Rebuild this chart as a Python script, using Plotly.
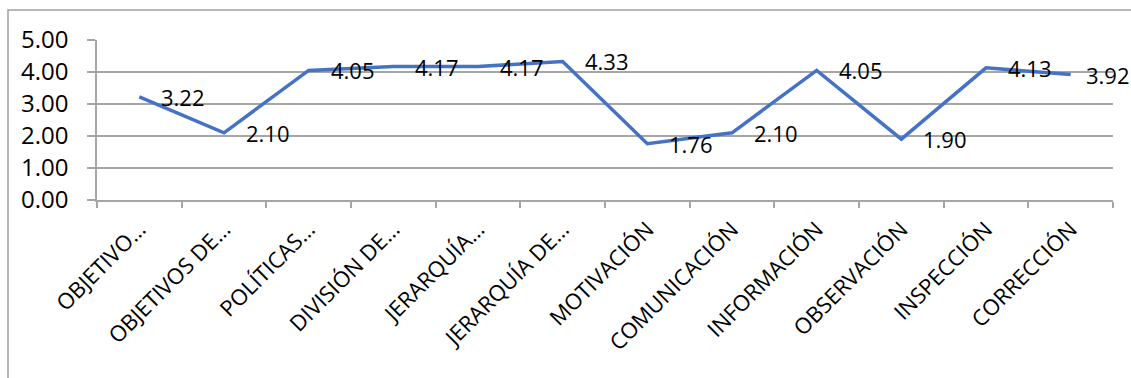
import plotly.graph_objects as go

# Categories and averaged scores
categorias = [
    "OBJETIVO…", "OBJETIVOS DE…", "POLÍTICAS…", "DIVISIÓN DE…",
    "JERARQUÍA…", "JERARQUÍA DE…", "MOTIVACIÓN", "COMUNICACIÓN",
    "INFORMACIÓN", "OBSERVACIÓN", "INSPECCIÓN", "CORRECCIÓN",
]
valores = [3.22, 2.10, 4.05, 4.17, 4.17, 4.33, 1.76, 2.10, 4.05, 1.90, 4.13, 3.92]
y_ticks = [0, 1, 2, 3, 4, 5]

W, H = 1131, 378
L, R, T, B = 97, 18, 40, 178
pw, ph = W - L - R, H - T - B

FONT = "Open Sans"
GRID = "#A6A6A6"

fig = go.Figure()
fig.add_trace(go.Scatter(
    x=categorias,
    y=valores,
    mode="lines",
    line=dict(color="#4472C4", width=3.5),
    showlegend=False,
    hoverinfo="skip",
))

# value labels to the right of each point (the last one pulled in to fit)
for i, (c, v) in enumerate(zip(categorias, valores)):
    fig.add_annotation(
        x=c, y=v, xref="x", yref="y",
        text=f"{v:.2f}", showarrow=False,
        xanchor="left", yanchor="middle",
        xshift=13 if i == len(valores) - 1 else 20,
        font=dict(family=FONT, size=22, color="#000000"),
    )

# chart-area border
def px_x(p):
    return (p - L) / pw

def px_y(p):
    return (H - B - p) / ph

fig.add_shape(
    type="rect", xref="paper", yref="paper",
    x0=px_x(8), x1=px_x(W + 5), y0=px_y(H + 5), y1=px_y(10),
    line=dict(color="#A0A0A0", width=1.5), fillcolor="rgba(0,0,0,0)",
    layer="below",
)

fig.update_layout(
    width=W, height=H,
    margin=dict(l=L, r=R, t=T, b=B),
    paper_bgcolor="white", plot_bgcolor="white",
    font=dict(family=FONT, color="#000000"),
    xaxis=dict(
        type="category",
        tickson="boundaries",
        ticks="outside", ticklen=6, tickcolor=GRID, tickwidth=1.5,
        showgrid=False,
        showline=True, linecolor=GRID, linewidth=1.5,
        tickangle=-45,
        tickfont=dict(family=FONT, size=22, color="#000000"),
        ticklabelstandoff=6,
        range=[-0.5, 11.5],
        fixedrange=True,
    ),
    yaxis=dict(
        range=[0, 5],
        tickvals=y_ticks,
        ticktext=[f"{v:.2f}" for v in y_ticks],
        ticks="outside", ticklen=8, tickcolor=GRID, tickwidth=1.5,
        showgrid=True, gridcolor=GRID, gridwidth=1.5,
        showline=True, linecolor=GRID, linewidth=1.5,
        zeroline=False,
        tickfont=dict(family=FONT, size=24, color="#000000"),
        ticklabelstandoff=14,
        fixedrange=True,
    ),
)

fig.write_html("out.html")
